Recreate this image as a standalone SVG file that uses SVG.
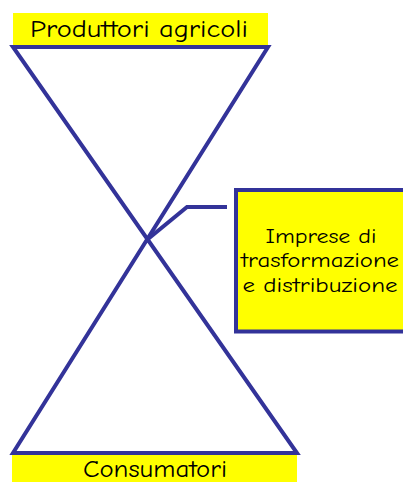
<svg xmlns="http://www.w3.org/2000/svg" width="403" height="482" viewBox="0 0 403 482">
<style>
.ln{stroke:#333399;stroke-width:4;fill:none;stroke-linejoin:miter}
.lbl{fill:#ffff00}
.t{font-family:"Comic Sans MS","Comic Neue","DejaVu Sans",sans-serif;fill:#000;text-anchor:middle}
</style>
<rect width="403" height="482" fill="#ffffff"/>
<g id="produttori">
<rect class="lbl" x="13" y="13" width="255" height="32"/>
<text class="t" x="139" y="37" font-size="25" textLength="218" lengthAdjust="spacingAndGlyphs">Produttori agricoli</text>
</g>
<g id="consumatori">
<rect class="lbl" x="12" y="455" width="285" height="27"/>
<text class="t" x="155" y="477" font-size="24" textLength="144" lengthAdjust="spacingAndGlyphs">Consumatori</text>
</g>
<g id="hourglass">
<path class="ln" d="M13,47 L268,47 L13,453 L297,453 Z"/>
</g>
<g id="imprese">
<rect class="lbl" x="236" y="190" width="170" height="141.5" stroke="#333399" stroke-width="4"/>
<text class="t" x="321" y="243" font-size="21" textLength="111" lengthAdjust="spacingAndGlyphs">Imprese di</text>
<text class="t" x="320" y="267" font-size="21" textLength="158" lengthAdjust="spacingAndGlyphs">trasformazione</text>
<text class="t" x="320" y="292" font-size="21" textLength="155" lengthAdjust="spacingAndGlyphs">e distribuzione</text>
</g>
<g id="connectors">
<polyline class="ln" points="148,239 187,207 227,207"/>
</g>
</svg>
